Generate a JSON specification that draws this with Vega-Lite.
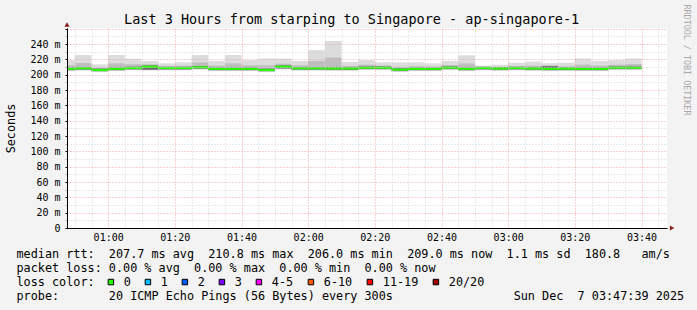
{
  "$schema": "https://vega.github.io/schema/vega-lite/v6.json",
  "width": 600,
  "height": 200,
  "autosize": {"type": "none"},
  "padding": {"left": 67, "top": 28, "right": 30, "bottom": 82},
  "background": "#f3f3f3",
  "config": {"view": {"fill": "#ffffff", "stroke": null}},
  "title": {
    "text": "Last 3 Hours from starping to Singapore - ap-singapore-1",
    "anchor": "start",
    "frame": "group",
    "dx": 57,
    "dy": 33,
    "baseline": "alphabetic",
    "font": "DejaVu Sans Mono",
    "fontSize": 13.5,
    "fontWeight": "normal",
    "color": "#000000",
    "offset": 0
  },
  "datasets": {
    "smoke": [
      {"t0": "2025-12-07T00:47:39Z", "t1": "2025-12-07T00:50:00Z", "min": 204.6, "lo": 205.4, "dlo": 206.0, "med": 207.6, "dhi": 209.2, "hi": 212.2, "max": 219},
      {"t0": "2025-12-07T00:50:00Z", "t1": "2025-12-07T00:55:00Z", "min": 205.3, "lo": 206.1, "dlo": 206.7, "med": 208.3, "dhi": 209.9, "hi": 215.2, "max": 225.6},
      {"t0": "2025-12-07T00:55:00Z", "t1": "2025-12-07T01:00:00Z", "min": 203.3, "lo": 204.1, "dlo": 204.7, "med": 206.0, "dhi": 207.9, "hi": 209.2, "max": 213.5},
      {"t0": "2025-12-07T01:00:00Z", "t1": "2025-12-07T01:05:00Z", "min": 204.6, "lo": 205.4, "dlo": 206.0, "med": 207.6, "dhi": 209.2, "hi": 214.8, "max": 225.6},
      {"t0": "2025-12-07T01:05:00Z", "t1": "2025-12-07T01:10:00Z", "min": 205.6, "lo": 206.4, "dlo": 207.0, "med": 208.6, "dhi": 210.2, "hi": 213.5, "max": 220.9},
      {"t0": "2025-12-07T01:10:00Z", "t1": "2025-12-07T01:15:00Z", "min": 205.5, "lo": 206.0, "dlo": 206.5, "med": 210.4, "dhi": 212.0, "hi": 213.4, "max": 217.8},
      {"t0": "2025-12-07T01:15:00Z", "t1": "2025-12-07T01:20:00Z", "min": 205.6, "lo": 206.4, "dlo": 207.0, "med": 208.6, "dhi": 210.2, "hi": 211.1, "max": 214.8},
      {"t0": "2025-12-07T01:20:00Z", "t1": "2025-12-07T01:25:00Z", "min": 205.6, "lo": 206.4, "dlo": 207.0, "med": 208.6, "dhi": 210.2, "hi": 211.6, "max": 216},
      {"t0": "2025-12-07T01:25:00Z", "t1": "2025-12-07T01:30:00Z", "min": 206.6, "lo": 207.4, "dlo": 208.0, "med": 209.6, "dhi": 211.2, "hi": 216.0, "max": 225.6},
      {"t0": "2025-12-07T01:30:00Z", "t1": "2025-12-07T01:35:00Z", "min": 204.6, "lo": 205.4, "dlo": 206.0, "med": 207.6, "dhi": 209.2, "hi": 211.8, "max": 218},
      {"t0": "2025-12-07T01:35:00Z", "t1": "2025-12-07T01:40:00Z", "min": 204.6, "lo": 205.4, "dlo": 206.0, "med": 207.6, "dhi": 209.2, "hi": 214.8, "max": 225.6},
      {"t0": "2025-12-07T01:40:00Z", "t1": "2025-12-07T01:45:00Z", "min": 204.6, "lo": 205.4, "dlo": 206.0, "med": 207.6, "dhi": 209.2, "hi": 212.2, "max": 219},
      {"t0": "2025-12-07T01:45:00Z", "t1": "2025-12-07T01:50:00Z", "min": 203.3, "lo": 204.1, "dlo": 204.7, "med": 206.0, "dhi": 207.9, "hi": 212.2, "max": 221},
      {"t0": "2025-12-07T01:50:00Z", "t1": "2025-12-07T01:55:00Z", "min": 206.8, "lo": 207.6, "dlo": 208.2, "med": 210.4, "dhi": 212.0, "hi": 214.3, "max": 221},
      {"t0": "2025-12-07T01:55:00Z", "t1": "2025-12-07T02:00:00Z", "min": 205.3, "lo": 206.1, "dlo": 206.7, "med": 208.3, "dhi": 209.9, "hi": 212.1, "max": 217.8},
      {"t0": "2025-12-07T02:00:00Z", "t1": "2025-12-07T02:05:00Z", "min": 205.3, "lo": 206.1, "dlo": 206.7, "med": 208.3, "dhi": 209.9, "hi": 217.8, "max": 232},
      {"t0": "2025-12-07T02:05:00Z", "t1": "2025-12-07T02:10:00Z", "min": 205.1, "lo": 205.9, "dlo": 206.5, "med": 208.1, "dhi": 209.7, "hi": 222.4, "max": 243.9},
      {"t0": "2025-12-07T02:10:00Z", "t1": "2025-12-07T02:15:00Z", "min": 205.1, "lo": 205.9, "dlo": 206.5, "med": 208.1, "dhi": 209.7, "hi": 211.5, "max": 216.5},
      {"t0": "2025-12-07T02:15:00Z", "t1": "2025-12-07T02:20:00Z", "min": 206.0, "lo": 206.8, "dlo": 207.4, "med": 209.0, "dhi": 210.6, "hi": 213.0, "max": 219},
      {"t0": "2025-12-07T02:20:00Z", "t1": "2025-12-07T02:25:00Z", "min": 206.0, "lo": 206.8, "dlo": 207.4, "med": 209.0, "dhi": 210.6, "hi": 211.8, "max": 216},
      {"t0": "2025-12-07T02:25:00Z", "t1": "2025-12-07T02:30:00Z", "min": 203.6, "lo": 204.4, "dlo": 205.0, "med": 206.6, "dhi": 208.2, "hi": 210.4, "max": 216},
      {"t0": "2025-12-07T02:30:00Z", "t1": "2025-12-07T02:35:00Z", "min": 204.6, "lo": 205.4, "dlo": 206.0, "med": 207.6, "dhi": 209.2, "hi": 211.0, "max": 216},
      {"t0": "2025-12-07T02:35:00Z", "t1": "2025-12-07T02:40:00Z", "min": 204.6, "lo": 205.4, "dlo": 206.0, "med": 207.6, "dhi": 209.2, "hi": 210.5, "max": 214.8},
      {"t0": "2025-12-07T02:40:00Z", "t1": "2025-12-07T02:45:00Z", "min": 206.0, "lo": 206.8, "dlo": 207.4, "med": 209.0, "dhi": 210.6, "hi": 212.5, "max": 217.8},
      {"t0": "2025-12-07T02:45:00Z", "t1": "2025-12-07T02:50:00Z", "min": 204.6, "lo": 205.4, "dlo": 206.0, "med": 207.6, "dhi": 209.2, "hi": 214.6, "max": 225.2},
      {"t0": "2025-12-07T02:50:00Z", "t1": "2025-12-07T02:55:00Z", "min": 205.6, "lo": 206.4, "dlo": 207.0, "med": 208.6, "dhi": 210.2, "hi": 210.5, "max": 211.7},
      {"t0": "2025-12-07T02:55:00Z", "t1": "2025-12-07T03:00:00Z", "min": 205.1, "lo": 205.9, "dlo": 206.5, "med": 208.1, "dhi": 209.7, "hi": 210.1, "max": 213},
      {"t0": "2025-12-07T03:00:00Z", "t1": "2025-12-07T03:05:00Z", "min": 205.6, "lo": 206.4, "dlo": 207.0, "med": 208.6, "dhi": 210.2, "hi": 211.4, "max": 215.6},
      {"t0": "2025-12-07T03:05:00Z", "t1": "2025-12-07T03:10:00Z", "min": 205.1, "lo": 205.9, "dlo": 206.5, "med": 208.1, "dhi": 209.7, "hi": 211.7, "max": 217},
      {"t0": "2025-12-07T03:10:00Z", "t1": "2025-12-07T03:15:00Z", "min": 204.6, "lo": 205.4, "dlo": 206.0, "med": 207.6, "dhi": 211.0, "hi": 212.0, "max": 215},
      {"t0": "2025-12-07T03:15:00Z", "t1": "2025-12-07T03:20:00Z", "min": 204.8, "lo": 205.6, "dlo": 206.2, "med": 207.8, "dhi": 209.4, "hi": 210.9, "max": 215.6},
      {"t0": "2025-12-07T03:20:00Z", "t1": "2025-12-07T03:25:00Z", "min": 204.6, "lo": 205.4, "dlo": 206.0, "med": 207.6, "dhi": 209.2, "hi": 213.0, "max": 221},
      {"t0": "2025-12-07T03:25:00Z", "t1": "2025-12-07T03:30:00Z", "min": 204.6, "lo": 205.4, "dlo": 206.0, "med": 207.6, "dhi": 209.2, "hi": 211.8, "max": 218},
      {"t0": "2025-12-07T03:30:00Z", "t1": "2025-12-07T03:35:00Z", "min": 206.0, "lo": 206.8, "dlo": 207.4, "med": 209.0, "dhi": 210.6, "hi": 213.0, "max": 219},
      {"t0": "2025-12-07T03:35:00Z", "t1": "2025-12-07T03:40:00Z", "min": 206.0, "lo": 206.8, "dlo": 207.4, "med": 209.0, "dhi": 210.6, "hi": 213.8, "max": 221}
    ],
    "loss": [
      {"loss": "0"}, {"loss": "1"}, {"loss": "2"}, {"loss": "3"},
      {"loss": "4-5"}, {"loss": "6-10"}, {"loss": "11-19"}, {"loss": "20/20"}
    ],
    "yarrow": [{"t0": "2025-12-07T00:47:39Z", "v": 265.5}],
    "xarrow": [{"t0": "2025-12-07T03:49:10Z", "v": 0}]
  },
  "encoding": {
    "x": {
      "field": "t0",
      "type": "temporal",
      "scale": {"type": "utc", "domain": [1765068459000, 1765079259000]},
      "axis": {
        "zindex": 1,
        "values": [1765068600000, 1765068900000, 1765069200000, 1765069500000, 1765069800000, 1765070100000, 1765070400000, 1765070700000, 1765071000000, 1765071300000, 1765071600000, 1765071900000, 1765072200000, 1765072500000, 1765072800000, 1765073100000, 1765073400000, 1765073700000, 1765074000000, 1765074300000, 1765074600000, 1765074900000, 1765075200000, 1765075500000, 1765075800000, 1765076100000, 1765076400000, 1765076700000, 1765077000000, 1765077300000, 1765077600000, 1765077900000, 1765078200000, 1765078500000, 1765078800000, 1765079100000],
        "labelExpr": "utcminutes(datum.value) % 20 === 0 ? utcFormat(datum.value, '%H:%M') : ''",
        "labelFont": "DejaVu Sans Mono",
        "labelFontSize": 10,
        "labelColor": "#000000",
        "labelPadding": 4,
        "labelAngle": 0,
        "labelOverlap": false,
        "labelFlush": false,
        "ticks": false,
        "domainColor": "#000000",
        "domainWidth": 1,
        "grid": true,
        "gridColor": {"condition": {"test": "utcminutes(datum.value) % 20 === 0", "value": "#f2a2a2"}, "value": "#d4d4d4"},
        "gridDash": [1, 2],
        "gridWidth": 1,
        "title": [
          "median rtt:\u00a0\u00a0207.7 ms avg\u00a0\u00a0210.8 ms max\u00a0\u00a0206.0 ms min\u00a0\u00a0209.0 ms now\u00a0\u00a01.1 ms sd\u00a0\u00a0180.8\u00a0\u00a0\u00a0am/s",
          "packet loss: 0.00 % avg\u00a0\u00a00.00 % max\u00a0\u00a00.00 % min\u00a0\u00a00.00 % now",
          "loss color:",
          "probe:\u00a0\u00a0\u00a0\u00a0\u00a0\u00a0\u00a020 ICMP Echo Pings (56 Bytes) every 300s\u00a0\u00a0\u00a0\u00a0\u00a0\u00a0\u00a0\u00a0\u00a0\u00a0\u00a0\u00a0\u00a0\u00a0\u00a0\u00a0\u00a0Sun Dec\u00a0\u00a07 03:47:39 2025"
        ],
        "titleFont": "DejaVu Sans Mono",
        "titleFontSize": 11.8,
        "titleFontWeight": "normal",
        "titleColor": "#000000",
        "titleAnchor": "start",
        "titleAlign": "left",
        "titleBaseline": "top",
        "titleX": -51,
        "titleY": 20.4,
        "titleLineHeight": 14.2,
        "titleLimit": 1000
      }
    }
  },
  "layer": [
    {
      "data": {"name": "smoke"},
      "mark": {"type": "bar", "color": "#dcdcdc"},
      "encoding": {
        "x2": {"field": "t1"},
        "y": {
          "field": "min",
          "type": "quantitative",
          "scale": {"domain": [0, 260.87], "nice": false, "zero": false},
          "axis": {
            "zindex": 1,
            "orient": "left",
            "values": [0, 10, 20, 30, 40, 50, 60, 70, 80, 90, 100, 110, 120, 130, 140, 150, 160, 170, 180, 190, 200, 210, 220, 230, 240, 250, 260],
            "labelExpr": "datum.value % 20 === 0 && datum.value <= 240 ? (datum.value === 0 ? '0\u00a0\u00a0' : datum.value + '\u00a0m') : ''",
            "labelFont": "DejaVu Sans Mono",
            "labelFontSize": 10,
            "labelColor": "#000000",
            "labelPadding": 5,
            "labelOverlap": false,
            "labelFlush": false,
            "tickSize": 2,
            "tickColor": {"condition": {"test": "datum.value % 20 === 0", "value": "#000000"}, "value": "#aaaaaa"},
            "domainColor": "#000000",
            "domainWidth": 1,
            "grid": true,
            "gridColor": {"condition": {"test": "datum.value % 20 === 0", "value": "#f2a2a2"}, "value": "#d4d4d4"},
            "gridDash": [1, 2],
            "gridWidth": 1,
            "title": "Seconds",
            "titleFont": "DejaVu Sans Mono",
            "titleFontSize": 11.8,
            "titleFontWeight": "normal",
            "titleColor": "#000000",
            "titleAngle": -90,
            "titleX": -57,
            "titleY": 100,
            "titleAlign": "center",
            "titleBaseline": "middle"
          }
        },
        "y2": {"field": "max"}
      }
    },
    {
      "data": {"name": "smoke"},
      "mark": {"type": "bar", "color": "#bebebe"},
      "encoding": {
        "x2": {"field": "t1"},
        "y": {"field": "lo", "type": "quantitative", "scale": {"domain": [0, 260.87], "nice": false, "zero": false}, "axis": null},
        "y2": {"field": "hi"}
      }
    },
    {
      "data": {"name": "smoke"},
      "mark": {"type": "bar", "color": "#6a6a6a"},
      "encoding": {
        "x2": {"field": "t1"},
        "y": {"field": "dlo", "type": "quantitative", "scale": {"domain": [0, 260.87], "nice": false, "zero": false}, "axis": null},
        "y2": {"field": "dhi"}
      }
    },
    {
      "data": {"name": "smoke"},
      "mark": {"type": "rule", "color": "#26ff00", "strokeWidth": 2},
      "encoding": {
        "x2": {"field": "t1"},
        "y": {
          "field": "med",
          "type": "quantitative",
          "scale": {"domain": [0, 260.87], "nice": false, "zero": false},
          "axis": {
            "orient": "right",
            "labels": false,
            "ticks": false,
            "domain": false,
            "grid": false,
            "title": "RRDTOOL / TOBI OETIKER",
            "titleFont": "DejaVu Sans Mono",
            "titleFontSize": 8.4,
            "titleFontWeight": "normal",
            "titleColor": "#a8a8a8",
            "titleAngle": 90,
            "titleX": 19,
            "titleY": -24,
            "titleAlign": "left",
            "titleBaseline": "middle",
            "titleLimit": 1000
          }
        }
      }
    },
    {
      "data": {"name": "yarrow"},
      "mark": {"type": "point", "shape": "triangle-up", "filled": true, "color": "#8b1a1a", "size": 26, "opacity": 1},
      "encoding": {
        "y": {"field": "v", "type": "quantitative", "scale": {"domain": [0, 260.87], "nice": false, "zero": false}, "axis": null}
      }
    },
    {
      "data": {"name": "xarrow"},
      "mark": {"type": "point", "shape": "triangle-right", "filled": true, "color": "#8b1a1a", "size": 26, "opacity": 1},
      "encoding": {
        "y": {"field": "v", "type": "quantitative", "scale": {"domain": [0, 260.87], "nice": false, "zero": false}, "axis": null}
      }
    },
    {
      "data": {"name": "loss"},
      "mark": {"type": "point", "filled": true, "opacity": 0},
      "encoding": {
        "color": {
          "field": "loss",
          "type": "nominal",
          "scale": {
            "domain": ["0", "1", "2", "3", "4-5", "6-10", "11-19", "20/20"],
            "range": ["#26ff00", "#00b8ff", "#0059ff", "#7e00ff", "#ff00ff", "#ff5500", "#ff0000", "#a00000"]
          },
          "legend": {
            "orient": "none",
            "legendX": 38,
            "legendY": 248,
            "direction": "horizontal",
            "padding": 0,
            "title": null,
            "labelFont": "DejaVu Sans Mono",
            "labelFontSize": 11.8,
            "labelColor": "#000000",
            "labelOffset": 7,
            "columnPadding": 11,
            "symbolType": "square",
            "symbolSize": 30,
            "symbolStrokeColor": "#000000",
            "symbolStrokeWidth": 1,
            "symbolOpacity": 1
          }
        }
      }
    }
  ],
  "resolve": {"scale": {"y": "independent"}}
}
